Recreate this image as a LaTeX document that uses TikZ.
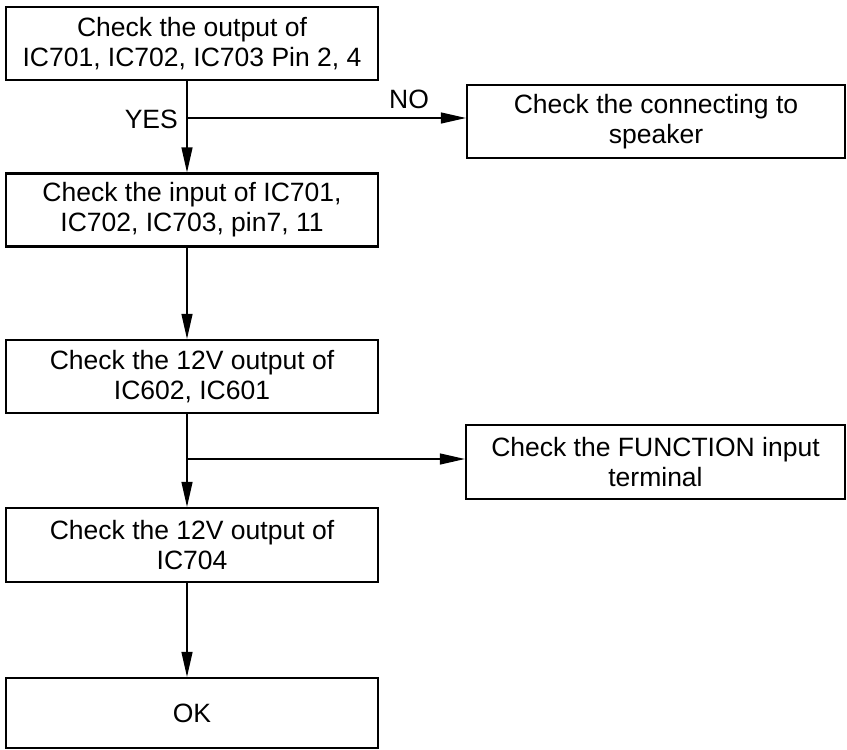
\documentclass[tikz,border=0pt]{standalone}
\usepackage{fontspec}
\setmainfont{Liberation Sans}
\usetikzlibrary{arrows.meta}
\begin{document}
\begin{tikzpicture}[x=1pt,y=-1pt,
  box/.style={draw,line width=2.2pt,rectangle,minimum width=372pt,minimum height=73pt,
    align=center,inner sep=0pt,font=\fontsize{26.5}{30}\selectfont},
  rbox/.style={box,minimum width=378pt},
  lbl/.style={font=\fontsize{26.5}{30}\selectfont,inner sep=0pt},
  conn/.style={line width=1.2pt,-{Triangle[length=25pt,width=11pt]}},
  plain/.style={line width=1.2pt}]
\useasboundingbox (0,0) rectangle (847,750);
\node[box] (b1) at (192,43.5) {Check the output of\\IC701, IC702, IC703 Pin 2, 4};
\node[rbox] (r1) at (656,121.5) {Check the connecting to\\speaker};
\node[box] (b2) at (192,210) {Check the input of IC701,\\IC702, IC703, pin7, 11};
\node[box] (b3) at (192,376.5) {Check the 12V output of\\IC602, IC601};
\node[rbox,minimum width=379pt,minimum height=74pt] (r2) at (655.5,462) {Check the FUNCTION input\\terminal};
\node[box,minimum height=74pt] (b4) at (192,545) {Check the 12V output of\\IC704};
\node[box,minimum height=70pt] (ok) at (192,713) {OK};
\coordinate (j1) at (187,118);
\coordinate (j2) at (187,459);
\draw[plain] (b1.south -| j1) -- (j1);
\draw[conn] (j1) -- (b2.north -| j1);
\draw[conn] (j1) -- (r1.west |- j1);
\node[lbl,anchor=east] (yes) at (178,119) {YES};
\node[lbl] (no) at (409,99) {NO};
\draw[conn] (b2.south -| j1) -- (b3.north -| j1);
\draw[plain] (b3.south -| j2) -- (j2);
\draw[conn] (j2) -- (b4.north -| j2);
\draw[conn] (j2) -- (r2.west |- j2);
\draw[conn] (b4.south -| j2) -- (ok.north -| j2);
\end{tikzpicture}
\end{document}
